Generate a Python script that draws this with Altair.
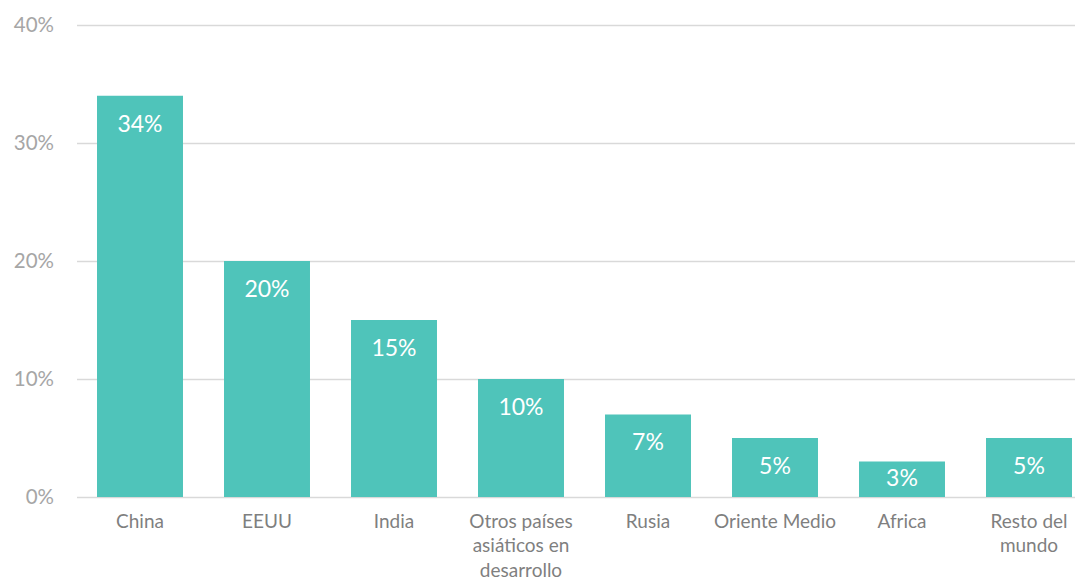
import altair as alt
import pandas as pd

categories = ["China", "EEUU", "India", "Otros países\nasiáticos en\ndesarrollo", "Rusia", "Oriente Medio", "Africa", "Resto del\nmundo"]
values = [0.34, 0.20, 0.15, 0.10, 0.07, 0.05, 0.03, 0.05]
labels = ["34%", "20%", "15%", "10%", "7%", "5%", "3%", "5%"]

df = pd.DataFrame({"cat": categories, "val": values, "lab": labels})

FONT = "Lato"
COLOR = "#4FC4BA"

x = alt.X("cat:N", sort=categories, title=None,
          scale=alt.Scale(range=[0, 1016], paddingInner=0.323, paddingOuter=0.1615),
          axis=alt.Axis(labelAngle=0, labelExpr="split(datum.label, '\\n')",
                        labelFont=FONT, labelFontSize=19, labelColor="#7F7F7F",
                        labelPadding=15, labelLineHeight=24.5, domain=False, ticks=False,
                        labelBaseline="top"))
y = alt.Y("val:Q", title=None,
          scale=alt.Scale(domain=[0, 0.4]),
          axis=alt.Axis(values=[0, 0.1, 0.2, 0.3, 0.4], format=".0%",
                        labelFont=FONT, labelFontSize=20.5, labelColor="#A6A6A6",
                        labelPadding=23, domain=False, ticks=False,
                        grid=True, gridColor="#D9D9D9", gridWidth=1.5))

base = alt.Chart(df)
bars = base.mark_bar(color=COLOR).encode(x=x, y=y)
text_top = base.transform_filter("datum.val >= 0.04").mark_text(
    color="white", font=FONT, fontSize=23, baseline="middle", dy=29).encode(
    x=alt.X("cat:N", sort=categories), y="val:Q", text="lab:N")
text_mid = base.transform_filter("datum.val < 0.04").transform_calculate(
    half="datum.val / 2").mark_text(
    color="white", font=FONT, fontSize=23, baseline="middle").encode(
    x=alt.X("cat:N", sort=categories), y="half:Q", text="lab:N")

chart = (bars + text_top + text_mid).properties(
    width=998.5, height=472,
    padding={"left": 68.5, "top": 17, "right": 0, "bottom": 83},
    autosize=alt.AutoSizeParams(type="none"),
).configure_view(stroke=None)

chart.save("out.html", embed_options={"renderer": "svg", "actions": False})
